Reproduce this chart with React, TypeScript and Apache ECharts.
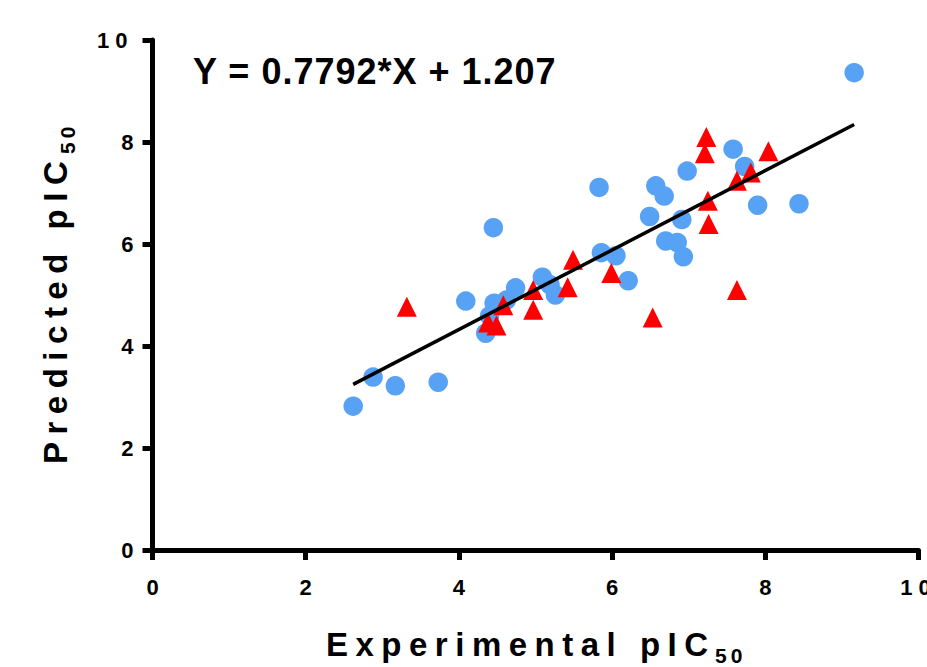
import React, { useEffect, useRef } from "react";
import * as echarts from "echarts";

// Training set (blue circles)
const trainX = [2.62, 2.88, 3.17, 3.73, 4.45, 4.09, 4.35, 4.40, 4.46, 4.62, 4.74, 5.09, 5.19, 5.26, 5.83, 5.86, 6.05, 6.21, 6.49, 6.57, 6.68, 6.98, 6.91, 6.70, 6.85, 6.93, 7.58, 7.73, 7.90, 8.44, 9.16];
const trainY = [2.82, 3.39, 3.22, 3.29, 6.32, 4.88, 4.25, 4.59, 4.84, 4.90, 5.14, 5.35, 5.20, 5.00, 7.11, 5.83, 5.77, 5.28, 6.54, 7.14, 6.94, 7.43, 6.48, 6.06, 6.03, 5.75, 7.86, 7.52, 6.76, 6.79, 9.36];

// Test set (red triangles)
const testX = [3.32, 4.38, 4.49, 4.58, 4.97, 4.97, 5.49, 5.42, 5.99, 6.53, 7.23, 7.21, 8.04, 7.63, 7.81, 7.25, 7.26, 7.63];
const testY = [4.77, 4.46, 4.40, 4.80, 5.10, 4.71, 5.69, 5.15, 5.43, 4.56, 8.10, 7.78, 7.82, 7.24, 7.40, 6.85, 6.39, 5.10];

const SLOPE = 0.7792;
const INTERCEPT = 1.207;

const xTitle = "Experimental pIC";
const yTitle = "Predicted pIC";
const subscript = "50";
const equation = `Y = ${SLOPE}*X + ${INTERCEPT}`;

const FONT = "'Liberation Sans', Arial, sans-serif";

export default function App() {
  const ref = useRef<HTMLDivElement>(null);

  useEffect(() => {
    const el = ref.current!;
    const chart = echarts.init(el, null, { renderer: "svg" });

    const allX = trainX.concat(testX);
    const xMin = Math.min(...allX);
    const xMax = Math.max(...allX);
    const fitLine = [
      [xMin, SLOPE * xMin + INTERCEPT],
      [xMax, SLOPE * xMax + INTERCEPT],
    ];

    const axisCommon = {
      type: "value" as const,
      min: 0,
      max: 10,
      interval: 2,
      splitLine: { show: false },
      axisLine: { show: true, lineStyle: { color: "#000", width: 5 } },
      axisTick: { show: true, length: 10, lineStyle: { color: "#000", width: 5 } },
    };

    chart.setOption({
      animation: false,
      grid: {
        left: 152.5,
        right: 8.5,
        top: 40,
        bottom: 117,
        containLabel: false,
        outerBoundsMode: "none",
      },
      xAxis: {
        ...axisCommon,
        axisLabel: {
          margin: 26,
          color: "#000",
          fontSize: 22,
          fontWeight: "bold",
          fontFamily: FONT,
        },
      },
      yAxis: {
        ...axisCommon,
        axisLabel: {
          margin: 19,
          color: "#000",
          fontSize: 22,
          fontWeight: "bold",
          fontFamily: FONT,
        },
      },
      series: [
        {
          type: "line",
          data: fitLine,
          showSymbol: false,
          symbol: "none",
          lineStyle: { color: "#000", width: 3.5 },
          silent: true,
        },
        {
          type: "scatter",
          data: trainX.map((x, i) => [x, trainY[i]]),
          symbol: "circle",
          symbolSize: 19.5,
          itemStyle: { color: "#58A2F6", opacity: 1 },
        },
        {
          type: "scatter",
          data: testX.map((x, i) => [x, testY[i]]),
          symbol: "triangle",
          symbolSize: 20,
          itemStyle: { color: "#FF0000", opacity: 1 },
        },
      ],
      graphic: [
        {
          type: "text",
          x: 193,
          y: 71,
          style: {
            text: equation,
            font: `bold 36px ${FONT}`,
            fill: "#000",
            textAlign: "left",
            textVerticalAlign: "middle",
          },
        },
        {
          type: "text",
          x: 326,
          y: 644,
          style: {
            text: xTitle,
            font: `bold 33px ${FONT}`,
            fill: "#000",
            textAlign: "left",
            textVerticalAlign: "middle",
          },
        },
        {
          type: "text",
          x: 715,
          y: 655,
          style: {
            text: subscript,
            font: `bold 21px ${FONT}`,
            fill: "#000",
            textAlign: "left",
            textVerticalAlign: "middle",
          },
        },
        {
          type: "text",
          x: 55.6,
          y: 464,
          rotation: Math.PI / 2,
          style: {
            text: yTitle,
            font: `bold 33px ${FONT}`,
            fill: "#000",
            textAlign: "left",
            textVerticalAlign: "middle",
          },
        },
        {
          type: "text",
          x: 67.6,
          y: 154,
          rotation: Math.PI / 2,
          style: {
            text: subscript,
            font: `bold 21px ${FONT}`,
            fill: "#000",
            textAlign: "left",
            textVerticalAlign: "middle",
          },
        },
      ],
    });

    const spacing: Record<string, number> = {
      [xTitle]: 7.5,
      [yTitle]: 7.5,
      [subscript]: 4,
      "10": 6,
      [equation]: 1,
    };
    const applySpacing = () => {
      el.querySelectorAll("text").forEach((t) => {
        const c = (t.textContent || "").trim();
        if (spacing[c] != null) {
          t.setAttribute("letter-spacing", String(spacing[c]));
          (t as SVGTextElement).style.letterSpacing = spacing[c] + "px";
        }
      });
    };
    applySpacing();
    chart.on("finished", applySpacing);
    const timer = window.setTimeout(applySpacing, 50);

    return () => {
      window.clearTimeout(timer);
      chart.dispose();
    };
  }, []);

  return (
    <div
      ref={ref}
      style={{ position: "absolute", left: 0, top: 0, width: 927, height: 667 }}
    />
  );
}
